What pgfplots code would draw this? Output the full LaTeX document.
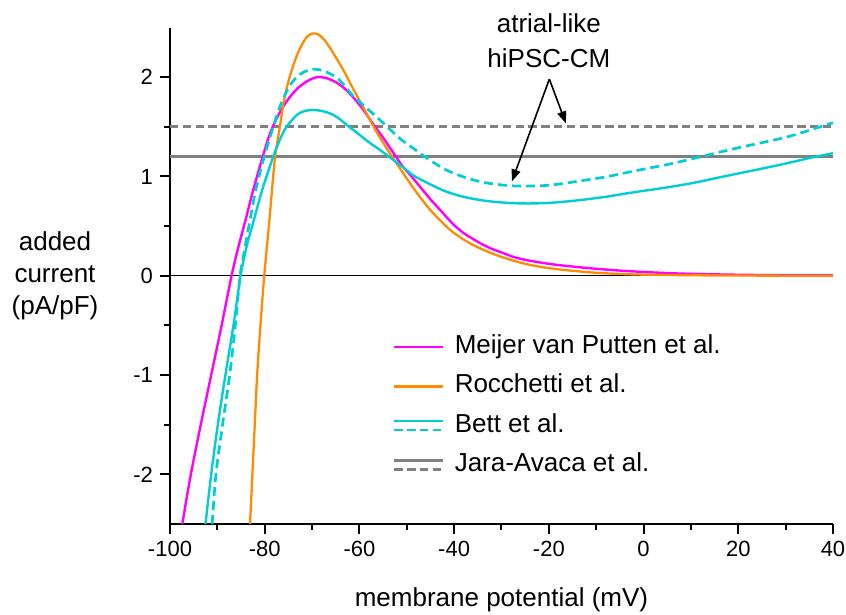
\documentclass[border=0pt]{standalone}
\usepackage{fontspec}
\setmainfont{Liberation Sans}
\usepackage{pgfplots}
\pgfplotsset{compat=1.18}
\usetikzlibrary{arrows.meta}

\definecolor{cmag}{RGB}{255,0,255}
\definecolor{corange}{RGB}{255,140,0}
\definecolor{ccyan}{RGB}{0,206,209}
\definecolor{cgray}{RGB}{128,128,128}

% legend image: solid line above a dashed one
\pgfplotsset{twoline legend/.style={legend image code/.code={
    \draw[##1] (0pt,2.25pt) -- (24.5pt,2.25pt);
    \draw[##1, dash pattern=on 4.2pt off 2.2pt] (0pt,-2.25pt) -- (24.5pt,-2.25pt);}}}

\begin{document}
\begin{tikzpicture}
\path[use as bounding box] (-85pt,-45.5pt) rectangle (338pt,262pt);
\begin{axis}[
    at={(0,0)}, anchor=south west,
    scale only axis,
    width=331.5pt, height=248.25pt,
    xmin=-100, xmax=40, ymin=-2.5, ymax=2.5,
    axis lines=left,
    axis line style={-, line width=1pt},
    tick style={line width=1pt, black},
    tick align=outside,
    major tick length=5pt,
    minor tick length=3pt,
    xtick={-100,-80,...,40},
    ytick={-2,-1,0,1,2},
    minor x tick num=1,
    minor y tick num=1,
    tick label style={font=\fontsize{11}{13}\selectfont},
    /pgf/number format/assume math mode=true,
    xlabel={membrane potential (mV)},
    xlabel style={font=\fontsize{13}{16}\selectfont, at={(axis description cs:0.5,0)}, anchor=center, yshift=-38pt},
    clip mode=individual,
    legend style={draw=none, fill=none, at={(rel axis cs:0.336,0.397)}, anchor=north west,
        inner sep=0pt, font=\fontsize{13}{16}\selectfont,
        nodes={text height=9.5pt, text depth=3pt, inner ysep=3.6pt},
        /tikz/every odd column/.append style={column sep=3pt}},
    legend cell align=left,
    legend image code/.code={\draw[#1] (0pt,0pt) -- (24.5pt,0pt);},
]
% zero line and the two constant levels (Jara-Avaca)
\addplot[black, line width=0.75pt, forget plot] coordinates {(-100,0) (40,0)};
\addplot[cgray, line width=1.3pt, forget plot] coordinates {(-100,1.2) (40,1.2)};
\addplot[cgray, line width=1.5pt, dash pattern=on 4.2pt off 2.2pt, forget plot] coordinates {(-100,1.5) (40,1.5)};

% Meijer van Putten et al.
\addplot[cmag, line width=1.2pt, smooth] coordinates {
(-97.4,-2.5) (-95.6,-2.0) (-93.5,-1.5) (-91.3,-1.0) (-89.1,-0.5) (-87.0,0)
(-85.5,0.3) (-84.0,0.57) (-82.5,0.85) (-80.6,1.17) (-78.9,1.43) (-77,1.63)
(-75,1.78) (-73,1.89) (-71,1.96) (-69,2.0) (-67,1.99) (-65,1.95) (-63,1.88)
(-61,1.78) (-59,1.66) (-57,1.52) (-55,1.39) (-53,1.25) (-51,1.11) (-49,1.0)
(-47,0.885) (-45,0.77) (-43,0.665) (-41.5,0.585) (-40,0.51) (-38,0.43)
(-36,0.37) (-34,0.315) (-32,0.27) (-30,0.235) (-27.5,0.19) (-25,0.16)
(-22,0.135) (-20,0.12) (-17.5,0.105) (-15,0.093) (-13,0.083) (-10,0.07)
(-5,0.052) (0,0.038) (5,0.027) (10,0.019) (20,0.01) (30,0.005) (40,0.003)};
\addlegendentry{Meijer van Putten et al.}

% Rocchetti et al.
\addplot[corange, line width=1.15pt, smooth] coordinates {
(-83.1,-2.5) (-82.6,-2.0) (-82.1,-1.5) (-81.6,-1.0) (-80.9,-0.5) (-80.1,0)
(-79.2,0.46) (-78.5,0.84) (-77.8,1.2) (-76.8,1.5) (-76.1,1.72) (-75.4,1.88)
(-74.5,2.04) (-73.2,2.22) (-72,2.34) (-71,2.41) (-69.9,2.44) (-68.7,2.43)
(-67.3,2.37) (-65.5,2.24) (-63.5,2.08) (-61.3,1.88) (-59,1.68) (-57,1.5)
(-55,1.34) (-53,1.19) (-51,1.05) (-49,0.91) (-47,0.78) (-45,0.66) (-43,0.56)
(-41.5,0.49) (-40,0.43) (-38,0.365) (-36,0.31) (-34,0.265) (-32,0.225)
(-30,0.19) (-27.5,0.152) (-25,0.12) (-22,0.092) (-20,0.077) (-17.5,0.062)
(-15,0.05) (-13,0.041) (-10,0.03) (-5,0.018) (0,0.011) (10,0.005) (20,0.002) (40,0)};
\addlegendentry{Rocchetti et al.}

% Bett et al. (solid)
\addplot[ccyan, line width=1.2pt, smooth, twoline legend] coordinates {
(-92.5,-2.5) (-91.3,-2.0) (-89.9,-1.5) (-88.3,-1.0) (-86.6,-0.5) (-85.1,0)
(-83.8,0.3) (-82.75,0.48) (-81.5,0.7) (-80.3,0.9) (-78.2,1.2) (-76.8,1.37)
(-75.4,1.5) (-73.2,1.62) (-71.5,1.66) (-69.7,1.67) (-68,1.66) (-66.2,1.635)
(-64.5,1.59) (-62.7,1.52) (-60,1.42) (-58,1.345) (-55.65,1.266) (-53.5,1.19)
(-51,1.1) (-48.6,1.01) (-45,0.92) (-41.6,0.846) (-38,0.795) (-34.5,0.762)
(-31,0.742) (-27.5,0.731) (-24,0.728) (-20.4,0.733) (-17.6,0.742)
(-13.4,0.762) (-8,0.795) (-3.5,0.83) (0,0.855) (5,0.89) (10.5,0.935)
(15,0.98) (20,1.03) (24.6,1.075) (30,1.13) (35,1.185) (40,1.235)};
\addlegendentry{Bett et al.}

% Bett et al. (dashed)
\addplot[ccyan, line width=1.35pt, smooth, dash pattern=on 4.5pt off 2.5pt, forget plot] coordinates {
(-91.1,-2.5) (-90.3,-2.0) (-88.9,-1.5) (-87.4,-1.0) (-86.2,-0.5) (-85.2,0)
(-84.3,0.25) (-83.5,0.46) (-82,0.84) (-80.3,1.165) (-78.2,1.5) (-76.4,1.75)
(-74.5,1.93) (-72.5,2.03) (-70.5,2.075) (-69.5,2.08) (-68,2.07) (-66,2.03)
(-64,1.96) (-61.3,1.81) (-58.5,1.69) (-55.65,1.568) (-51.4,1.38) (-48.6,1.283)
(-45,1.16) (-41.6,1.064) (-38,0.995) (-34.5,0.947) (-31,0.92) (-27.5,0.905)
(-24,0.903) (-20.4,0.91) (-17.6,0.925) (-13.4,0.955) (-8,0.995) (-3.5,1.04)
(0.7,1.08) (5,1.12) (10.5,1.18) (14.8,1.23) (17.6,1.262) (22,1.31)
(28.8,1.38) (33,1.435) (37.3,1.5) (40,1.54)};

\addlegendimage{cgray, line width=1.3pt, twoline legend}
\addlegendentry{Jara-Avaca et al.}

% annotation
\node[align=center, font=\fontsize{13}{17.5}\selectfont] at (axis cs:-20,2.365) {atrial-like\\hiPSC-CM};
\draw[line width=0.8pt, -{Triangle[length=6pt, width=4.5pt]}] (axis cs:-19.9,1.98) -- (axis cs:-27.8,0.95);
\draw[line width=0.8pt, -{Triangle[length=6pt, width=4.5pt]}] (axis cs:-19.9,1.98) -- (axis cs:-16.4,1.535);

% y label, set horizontally
\node[align=center, font=\fontsize{13}{16}\selectfont, xshift=-57.5pt] at (rel axis cs:0,0.5) {added\\current\\(pA/pF)};
\end{axis}
\end{tikzpicture}
\end{document}
